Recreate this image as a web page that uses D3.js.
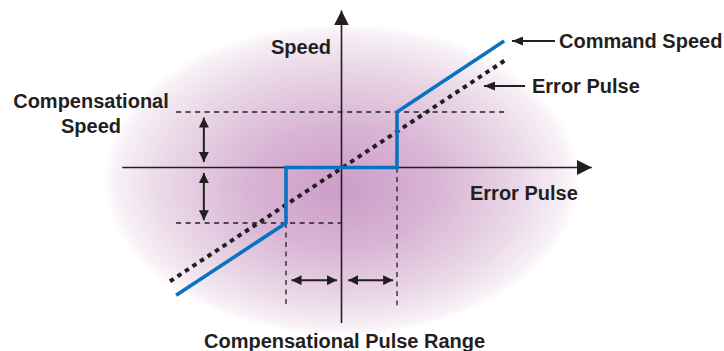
<!DOCTYPE html>
<html>
<head>
<meta charset="utf-8">
<script src="https://cdn.jsdelivr.net/npm/d3@7/dist/d3.min.js"></script>
<style>
  html, body { margin: 0; padding: 0; background: #ffffff; }
  svg { display: block; }
  text { font-family: "Liberation Sans", Arial, sans-serif; font-weight: bold; font-size: 20px; fill: #231f20; }
</style>
</head>
<body>
<svg id="chart" width="724" height="351"></svg>
<script>
// Command speed (blue) and error pulse (dotted) curves, in normalised units
// where 1 = one compensational pulse range / one compensational speed step.
const commandX = [-2.98, -1, -1, 1, 1, 2.93];
const commandY = [-2.30, -1, 0, 0, 1, 2.28];
const errorX = [-3.09, 2.96];
const errorY = [-2.05, 1.94];

// Axis extents and guide levels, same units.
const xAxisRange = [-3.95, 4.51];
const yAxisRange = [-2.8, 2.83];
const compPulse = [-1, 1];
const compSpeed = [-1, 1];

const labels = {
  speedAxis: "Speed",
  pulseAxis: "Error Pulse",
  compSpeed: ["Compensational", "Speed"],
  compRange: "Compensational Pulse Range",
  command: "Command Speed",
  error: "Error Pulse"
};

const ink = "#231f20";
const blue = "#0a73bf";

const x = d3.scaleLinear().domain([-1, 1]).range([286, 397]);
const y = d3.scaleLinear().domain([-1, 1]).range([223, 112]);

const svg = d3.select("#chart");
const defs = svg.append("defs");

// Soft purple halo behind the axes, darkest just below the origin
const grad = defs.append("radialGradient").attr("id", "halo")
  .attr("cx", "50%").attr("cy", "50%").attr("r", "50%")
  .attr("fx", "50%").attr("fy", "54%");
grad.append("stop").attr("offset", "0%").attr("stop-color", "#cc9cc7");
grad.append("stop").attr("offset", "40%").attr("stop-color", "#d9b5d5");
grad.append("stop").attr("offset", "75%").attr("stop-color", "#ead8e7");
grad.append("stop").attr("offset", "95%").attr("stop-color", "#f8f1f7");
grad.append("stop").attr("offset", "100%").attr("stop-color", "#ffffff");

svg.append("ellipse")
  .attr("cx", x(0)).attr("cy", y(0) + 12)
  .attr("rx", 238).attr("ry", 156)
  .attr("fill", "url(#halo)");

// Arrowhead markers
function marker(id, len, half) {
  defs.append("marker").attr("id", id)
    .attr("markerUnits", "userSpaceOnUse")
    .attr("viewBox", `0 ${-half} ${len} ${half * 2}`)
    .attr("refX", len).attr("refY", 0)
    .attr("markerWidth", len).attr("markerHeight", half * 2)
    .attr("orient", "auto-start-reverse")
    .append("path")
    .attr("d", `M0,${-half}L${len},0L0,${half}Z`)
    .attr("fill", ink);
}
marker("axisHead", 15, 7.5);
marker("smallHead", 10, 5);
marker("labelHead", 11, 4.5);

// Axes
svg.append("line")
  .attr("x1", x(xAxisRange[0])).attr("x2", x(xAxisRange[1]))
  .attr("y1", y(0)).attr("y2", y(0))
  .attr("stroke", ink).attr("stroke-width", 1.6)
  .attr("marker-end", "url(#axisHead)");
svg.append("line")
  .attr("x1", x(0)).attr("x2", x(0))
  .attr("y1", y(yAxisRange[0])).attr("y2", y(yAxisRange[1]))
  .attr("stroke", ink).attr("stroke-width", 1.6)
  .attr("marker-end", "url(#axisHead)");

// Dashed guides
const guides = [
  [[-2.98, compSpeed[1]], [2.96, compSpeed[1]]],
  [[-2.98, compSpeed[0]], [0, compSpeed[0]]],
  [[compPulse[0], compSpeed[0]], [compPulse[0], -2.48]],
  [[compPulse[1], 0], [compPulse[1], -2.48]]
];
svg.append("g").selectAll("line").data(guides).join("line")
  .attr("x1", d => x(d[0][0])).attr("y1", d => y(d[0][1]))
  .attr("x2", d => x(d[1][0])).attr("y2", d => y(d[1][1]))
  .attr("stroke", ink).attr("stroke-width", 1.3)
  .attr("stroke-dasharray", "5,4.5");

// Double-headed dimension arrows
const dimX = -2.48, dimY = -2.03;
const dims = [
  [[dimX, 0.9], [dimX, 0.1]],
  [[dimX, -0.1], [dimX, -0.95]],
  [[-0.9, dimY], [-0.08, dimY]],
  [[0.12, dimY], [0.93, dimY]]
];
svg.append("g").selectAll("line").data(dims).join("line")
  .attr("x1", d => x(d[0][0])).attr("y1", d => y(d[0][1]))
  .attr("x2", d => x(d[1][0])).attr("y2", d => y(d[1][1]))
  .attr("stroke", ink).attr("stroke-width", 2)
  .attr("marker-start", "url(#smallHead)")
  .attr("marker-end", "url(#smallHead)");

// Error pulse (dotted)
const line = d3.line().x(d => x(d[0])).y(d => y(d[1]));
svg.append("path")
  .attr("d", line(d3.zip(errorX, errorY)))
  .attr("fill", "none").attr("stroke", ink)
  .attr("stroke-width", 4).attr("stroke-dasharray", "4.5,4.5");

// Command speed (blue)
svg.append("path")
  .attr("d", line(d3.zip(commandX, commandY)))
  .attr("fill", "none").attr("stroke", blue)
  .attr("stroke-width", 3.6).attr("stroke-linejoin", "miter");

// Label pointers
const pointers = [
  { x1: 555, y1: 41, x2: 512, y2: 41 },
  { x1: 525, y1: 86, x2: 484, y2: 86 }
];
svg.append("g").selectAll("line").data(pointers).join("line")
  .attr("x1", d => d.x1).attr("y1", d => d.y1)
  .attr("x2", d => d.x2).attr("y2", d => d.y2)
  .attr("stroke", ink).attr("stroke-width", 2)
  .attr("marker-end", "url(#labelHead)");

// Text
svg.append("text").attr("x", 331).attr("y", 54).attr("text-anchor", "end").text(labels.speedAxis);
svg.append("text").attr("x", 470).attr("y", 200).text(labels.pulseAxis);
svg.append("text").attr("x", 91).attr("y", 108).attr("text-anchor", "middle").text(labels.compSpeed[0]);
svg.append("text").attr("x", 91).attr("y", 133).attr("text-anchor", "middle").text(labels.compSpeed[1]);
svg.append("text").attr("x", 204).attr("y", 348).text(labels.compRange);
svg.append("text").attr("x", 559).attr("y", 48).text(labels.command);
svg.append("text").attr("x", 532).attr("y", 93).text(labels.error);
</script>
</body>
</html>
